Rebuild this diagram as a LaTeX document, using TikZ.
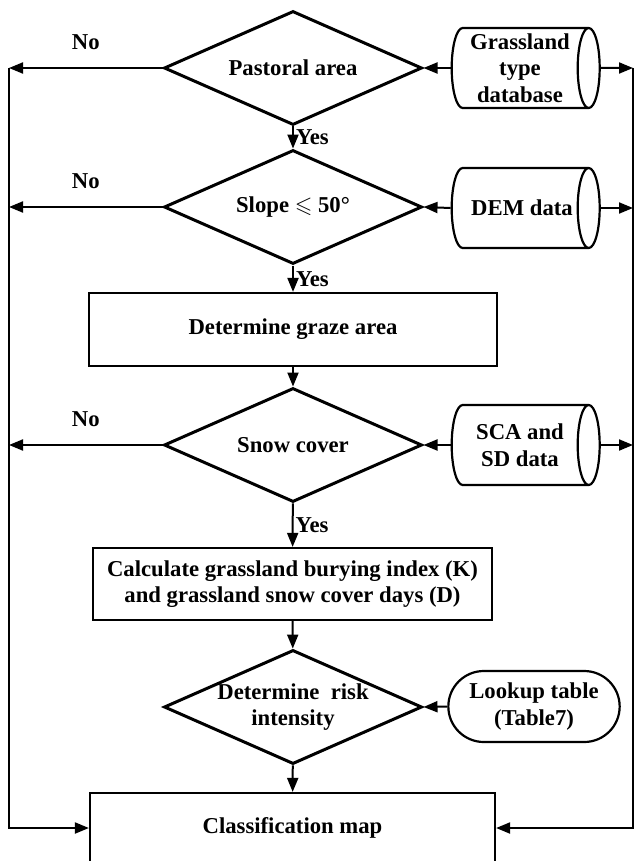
\documentclass[tikz,border=0pt]{standalone}
\usepackage{fontspec}
\setmainfont{Liberation Serif}
\usepackage{amssymb}
\usetikzlibrary{arrows.meta,shapes.geometric,shapes.misc}

\tikzset{
  decision/.style={diamond, draw, line width=3pt, aspect=2.26, minimum width=258pt, minimum height=114pt, inner sep=0pt, align=center},
  process/.style={rectangle, draw, line width=2.2pt, align=center},
  database/.style={cylinder, draw, line width=2.2pt, minimum width=80pt, minimum height=148pt, aspect=1.1, inner xsep=0pt, inner ysep=10pt},
  lookupbox/.style={rounded rectangle, draw, line width=2.2pt, minimum width=178pt, minimum height=71pt, align=center},
  flow/.style={line width=2pt, -{Triangle[length=14pt, width=11pt]}}
}

\begin{document}
\begin{tikzpicture}[x=1pt, y=-1pt, font=\fontsize{22.7}{26.5}\selectfont\bfseries]
		%%%%% START %%%%%
		\useasboundingbox (0,0) rectangle (635,861);
		\clip (0,0) rectangle (635,861);
		
		\coordinate (ltop) at (9,68);
		\coordinate (rtop) at (633,68);
		
		\node[decision] (pastoral) at (293,68) {Pastoral area};
		\node[decision] (slope) at (293,207) {Slope $\leqslant$ 50°};
		\node[process, minimum width=408pt, minimum height=73pt] (graze) at (293,329.5) {Determine graze area};
		\node[decision] (snow) at (293,445) {Snow cover};
		\node[process, minimum width=399pt, minimum height=72pt] (calc) at (292.5,584) {Calculate grassland burying index (K)\\and grassland snow cover days (D)};
		\node[decision] (risk) at (293,707) {Determine\ \ risk\\intensity};
		\node[process, minimum width=405pt, minimum height=70pt] (map) at (292.5,828) {Classification map};
		
		% data sources
		\node[database] (grass) at (516,68) {};
		\node[align=center] (grasstext) at (520,68) {Grassland\\type\\database};
		\node[database] (dem) at (516,208) {};
		\node (demtext) at (522,208) {DEM data};
		\node[database] (sca) at (516,445) {};
		\node[align=center] (scatext) at (520,445) {SCA and\\SD data};
		\node[lookupbox] (lookup) at (534,706.5) {Lookup table\\(Table7)};
		
		\draw[flow] (pastoral) -- node[right, inner sep=2pt] {Yes} (slope);
		\draw[flow] (slope) -- node[right, inner sep=2pt] {Yes} (graze);
		\draw[flow] (graze) -- (snow);
		\draw[flow] (snow) -- node[right, inner sep=2pt] {Yes} (calc);
		\draw[flow] (calc) -- (risk);
		\draw[flow] (risk) -- (map);
		
		\draw[flow] (grass.west) -- (pastoral.east);
		\draw[flow] (dem.west) -- (slope.east);
		\draw[flow] (sca.west) -- (snow.east);
		\draw[flow] (lookup.west) -- (risk.east);
		
		\draw[flow] (pastoral.west) -- node[above=14pt] {No} (ltop);
		\draw[flow] (slope.west) -- node[above=14pt] {No} (slope.west -| ltop);
		\draw[flow] (snow.west) -- node[above=14pt] {No} (snow.west -| ltop);
		\draw[flow] (ltop) |- (map.west);
		
		\draw[flow] (grass.east) -- (rtop);
		\draw[flow] (dem.east) -- (dem.east -| rtop);
		\draw[flow] (sca.east) -- (sca.east -| rtop);
		\draw[flow] (rtop) |- (map.east);
		
		%%%%% END %%%%%
	\end{tikzpicture}
\end{document}
